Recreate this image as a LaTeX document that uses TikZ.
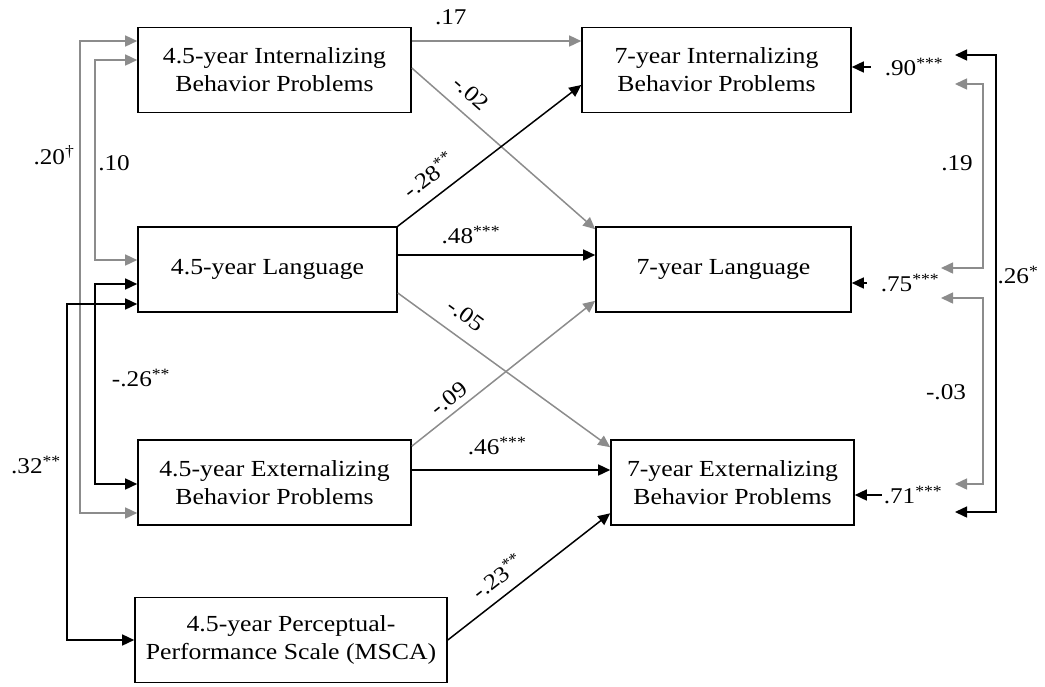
\documentclass[tikz,border=0pt]{standalone}
\usepackage{fontspec}
\setmainfont[FakeStretch=1.12]{Liberation Serif}
\usetikzlibrary{arrows.meta,positioning}
\definecolor{pathgray}{RGB}{140,140,140}
\tikzset{
  >={Triangle[length=12pt,width=11pt]},
  varbox/.style={draw, line width=1.6pt, minimum height=85pt, inner sep=0pt,
    align=center, font=\fontsize{23}{28}\selectfont},
  coef/.style={inner sep=0pt, text=black, font=\fontsize{22.5}{26}\selectfont},
  blkpath/.style={line width=1.5pt, ->},
  graypath/.style={blkpath, draw=pathgray},
}

\begin{document}
\begin{tikzpicture}[x=1pt,y=-1pt]
  \useasboundingbox (0,0) rectangle (1045,686);

  % 4.5-year measures
  \node[varbox, minimum width=273pt] (intA) at (274.5,70) {4.5-year Internalizing\\Behavior Problems};
  \node[varbox, minimum width=259pt] (langA) at (267.5,269.5) {4.5-year Language};
  \node[varbox, minimum width=273pt] (extA) at (274.5,482.5) {4.5-year Externalizing\\Behavior Problems};
  \node[varbox, minimum width=312pt] (percA) at (291,640) {4.5-year Perceptual-\\Performance Scale (MSCA)};

  % 7-year measures
  \node[varbox, minimum width=269pt] (intB) at (716.5,70) {7-year Internalizing\\Behavior Problems};
  \node[varbox, minimum width=255pt] (langB) at (723.5,269.5) {7-year Language};
  \node[varbox, minimum width=243pt] (extB) at (732.5,482.5) {7-year Externalizing\\Behavior Problems};

  % Paths between waves
  \draw[graypath] ([yshift=29pt]intA.east) -- ([yshift=29pt]intB.west)
    node[coef, pos=.23, above=15pt] (p17) {.17};
  \draw[graypath] ([yshift=2pt]intA.east) -- ([yshift=-3pt]langB.north west)
    node[coef, sloped, pos=.25, above=12pt] (p02) {-.02};
  \draw[blkpath] (langA.north east) -- ([yshift=-15pt]intB.west)
    node[coef, sloped, pos=.24, above=12pt] (p28) {-.28\textsuperscript{**}};
  \draw[blkpath] ([yshift=14.5pt]langA.east) -- ([yshift=14.5pt]langB.west)
    node[coef, pos=.37, above=10pt] (p48) {.48\textsuperscript{***}};
  \draw[graypath] ([yshift=-23.5pt]langA.east) -- ([yshift=-8pt]extB.north west)
    node[coef, sloped, pos=.26, above=14pt] (p05) {-.05};
  \draw[graypath] ([yshift=-7pt]extA.north east) -- ([yshift=12pt]langB.south west)
    node[coef, sloped, pos=.25, above=6pt] (p09) {-.09};
  \draw[blkpath] ([yshift=12.5pt]extA.east) -- ([yshift=12.5pt]extB.west)
    node[coef, pos=.43, above=14pt] (p46) {.46\textsuperscript{***}};
  \draw[blkpath] (percA.east) -- ([yshift=12.5pt]extB.south west)
    node[coef, sloped, pos=.38, above=10pt] (p23) {-.23\textsuperscript{**}};

  % Correlations at 4.5 years
  \draw[graypath, <->] ([yshift=29pt]intA.west) -- ++(-57,0) |- ([yshift=-30.5pt]extA.west);
  \draw[graypath, <->] ([yshift=10pt]intA.west) -- ++(-42,0) |- ([yshift=9.5pt]langA.west);
  \draw[blkpath, <->] ([yshift=-14.5pt]langA.west) -- ++(-42,0) |- ([yshift=-1.5pt]extA.west);
  \draw[blkpath, <->] ([yshift=-34.5pt]langA.west) -- ++(-70,0) |- (percA.west);
  \node[coef] (c20) at (54,155) {.20\textsuperscript{\textdagger}};
  \node[coef] (c10) at (114,163) {.10};
  \node[coef] (c26) at (141,378) {-.26\textsuperscript{**}};
  \node[coef] (c32) at (36,465) {.32\textsuperscript{**}};

  % Residuals at 7 years
  \node[coef] (res90) at (914,67) {.90\textsuperscript{***}};
  \node[coef] (res75) at (910,283) {.75\textsuperscript{***}};
  \node[coef] (res71) at (913,495) {.71\textsuperscript{***}};
  \draw[blkpath, shorten <=14pt] (res90.west) -- (intB.east |- res90.west);
  \draw[blkpath, shorten <=14pt] (res75.west) -- (langB.east |- res75.west);
  \draw[blkpath, shorten <=2pt] (res71.west) -- (extB.east |- res71.west);

  % Residual correlations
  \coordinate (r90a) at (955,55);
  \coordinate (r90b) at (955,84);
  \coordinate (r75a) at (941,268);
  \coordinate (r75b) at (941,298);
  \coordinate (r71a) at (955,484);
  \coordinate (r71b) at (955,512);
  \draw[blkpath, <->] (r90a) -- ++(41,0) |- (r71b);
  \draw[graypath, <->] (r90b) -- ++(28,0) |- (r75a);
  \draw[graypath, <->] (r75b) -- ++(42,0) |- (r71a);
  \node[coef] (e19) at (957,163) {.19};
  \node[coef] (e26) at (1018,275) {.26\textsuperscript{*}};
  \node[coef] (e03) at (946,392) {-.03};
\end{tikzpicture}
\end{document}
